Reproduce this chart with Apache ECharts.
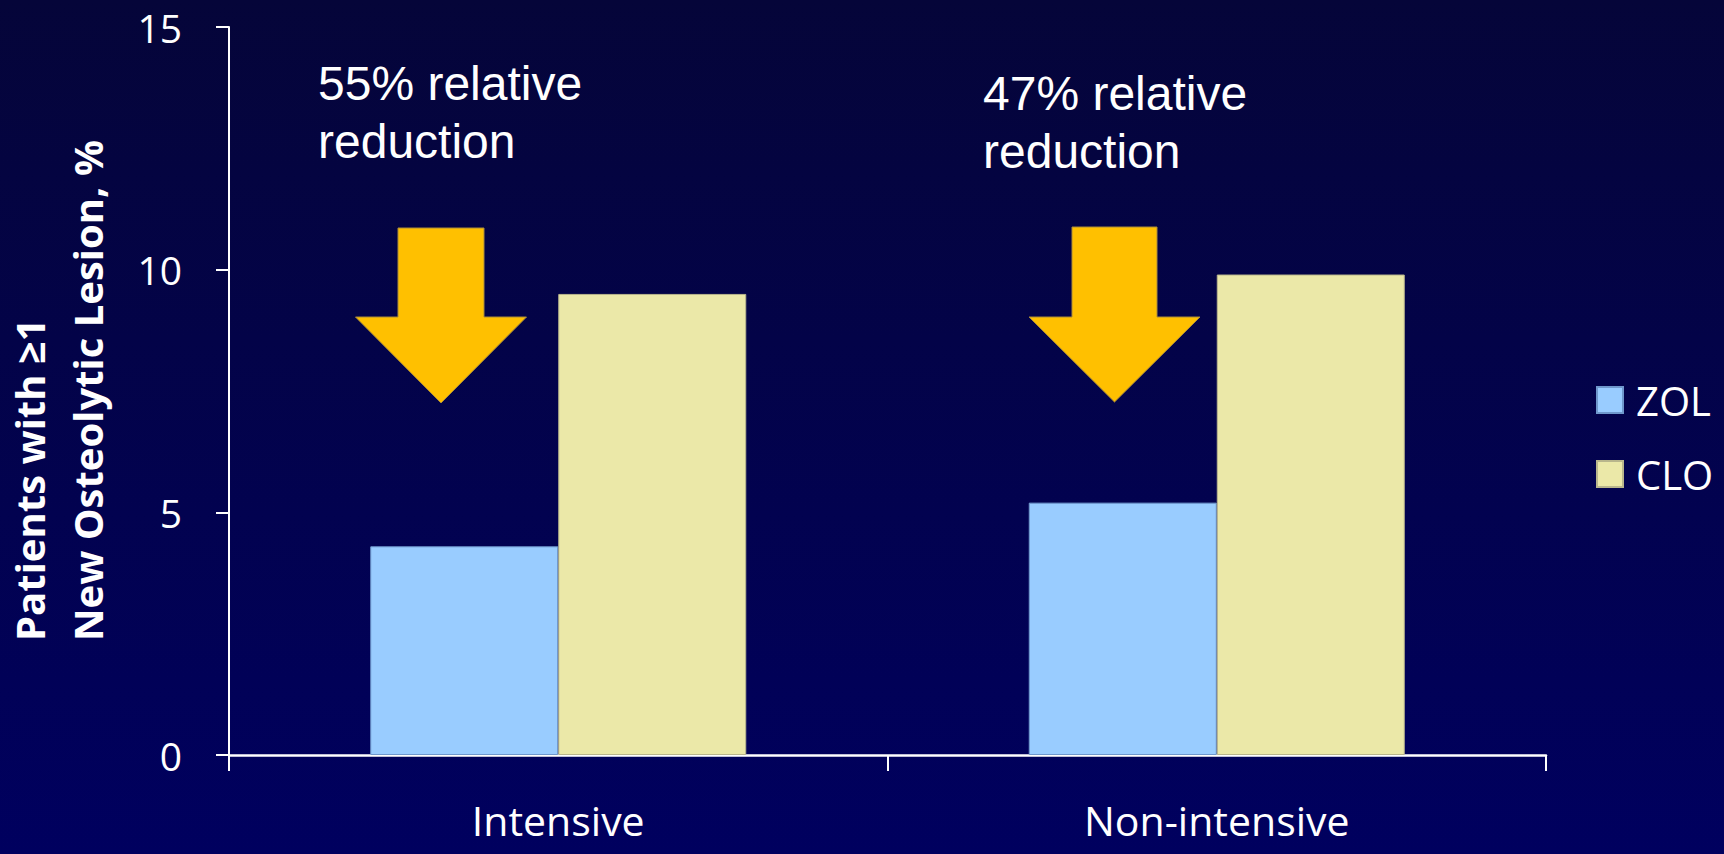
<!DOCTYPE html>
<html>
<head>
<meta charset="utf-8">
<style>
  html, body { margin: 0; padding: 0; background: #00004a; }
  #chart { width: 1724px; height: 854px; }
</style>
<script src="https://cdn.jsdelivr.net/npm/echarts@6/dist/echarts.min.js"></script>
</head>
<body>
<div id="chart"></div>
<script>
// Share of patients with at least one new osteolytic lesion, by treatment arm
const categories = ['Intensive', 'Non-intensive'];
const seriesNames = ['ZOL', 'CLO'];
const zolValues = [4.3, 5.2];
const cloValues = [9.5, 9.9];
const reductionNotes = ['55% relative\nreduction', '47% relative\nreduction'];
const axisTitle = 'Patients with \u22651\nNew Osteolytic Lesion, %';

const chart = echarts.init(document.getElementById('chart'), null, { renderer: 'svg' });

// Downward arrow outline: shaft top, shoulders, head and tip
function arrowPoints(cx, top, shoulder, tip, shaftHalf, headHalf) {
  return [
    [cx - shaftHalf, top], [cx + shaftHalf, top], [cx + shaftHalf, shoulder],
    [cx + headHalf, shoulder], [cx, tip], [cx - headHalf, shoulder],
    [cx - shaftHalf, shoulder]
  ];
}

const option = {
  backgroundColor: {
    type: 'linear', x: 0, y: 0, x2: 0, y2: 1,
    colorStops: [
      { offset: 0, color: '#050539' },
      { offset: 1, color: '#00005f' }
    ]
  },
  animation: false,
  grid: { left: 229, right: 178, top: 27, bottom: 99 },
  legend: {
    orient: 'vertical',
    left: 1596,
    top: 380,
    padding: 0,
    itemWidth: 26,
    itemHeight: 26,
    itemGap: 34,
    icon: 'rect',
    data: seriesNames,
    textStyle: {
      color: '#ffffff',
      fontFamily: 'Open Sans',
      fontSize: 40,
      lineHeight: 26,
      padding: [0, 0, 0, 8]
    }
  },
  xAxis: {
    type: 'category',
    data: categories,
    axisLine: { show: true, lineStyle: { color: '#ffffff', width: 2.5 } },
    axisTick: { show: true, length: 16, alignWithLabel: false, lineStyle: { color: '#ffffff', width: 2 } },
    axisLabel: {
      color: '#ffffff',
      fontFamily: 'Open Sans',
      fontSize: 41,
      lineHeight: 38,
      margin: 46
    },
    splitLine: { show: false }
  },
  yAxis: {
    type: 'value',
    min: 0,
    max: 15,
    interval: 5,
    axisLine: { show: true, lineStyle: { color: '#ffffff', width: 2 } },
    axisTick: { show: true, length: 13, lineStyle: { color: '#ffffff', width: 2 } },
    axisLabel: {
      color: '#ffffff',
      fontFamily: 'Open Sans',
      fontSize: 39,
      margin: 47
    },
    splitLine: { show: false }
  },
  series: [
    {
      name: seriesNames[0],
      type: 'bar',
      data: zolValues,
      barWidth: 188,
      barGap: '0%',
      itemStyle: { color: '#99ccff', borderColor: '#6f98cc', borderWidth: 1 }
    },
    {
      name: seriesNames[1],
      type: 'bar',
      data: cloValues,
      barWidth: 188,
      barGap: '0%',
      itemStyle: { color: '#ebe8a8', borderColor: '#b9b68c', borderWidth: 1 }
    }
  ],
  graphic: [
    {
      type: 'text',
      x: 58,
      y: 641,
      rotation: Math.PI / 2,
      style: {
        text: axisTitle,
        fill: '#ffffff',
        font: 'bold 40px "Open Sans"',
        lineHeight: 58,
        align: 'left',
        verticalAlign: 'middle'
      }
    },
    {
      type: 'text',
      x: 318,
      y: 112,
      style: {
        text: reductionNotes[0],
        fill: '#ffffff',
        font: '48px "Liberation Sans"',
        lineHeight: 58,
        align: 'left',
        verticalAlign: 'middle'
      }
    },
    {
      type: 'text',
      x: 983,
      y: 122,
      style: {
        text: reductionNotes[1],
        fill: '#ffffff',
        font: '48px "Liberation Sans"',
        lineHeight: 58,
        align: 'left',
        verticalAlign: 'middle'
      }
    },
    {
      type: 'polygon',
      shape: { points: arrowPoints(441, 228, 317, 403, 43, 85.5) },
      style: { fill: '#ffc000', stroke: '#a88a3a', lineWidth: 1 }
    },
    {
      type: 'polygon',
      shape: { points: arrowPoints(1114.5, 227, 317, 402, 42.5, 85.5) },
      style: { fill: '#ffc000', stroke: '#a88a3a', lineWidth: 1 }
    }
  ]
};

chart.setOption(option);
</script>
</body>
</html>
